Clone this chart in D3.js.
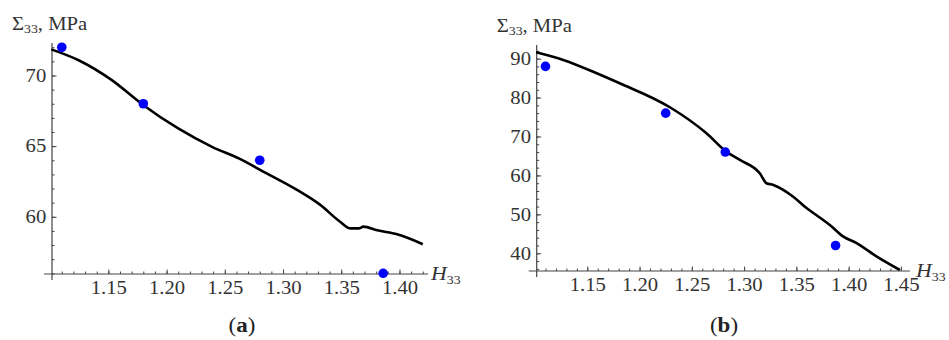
<!DOCTYPE html>
<html>
<head>
<meta charset="utf-8">
<script src="https://cdn.jsdelivr.net/npm/d3@7"></script>
<style>
    body { margin: 0; background: #fff; }
    svg { display: block; }
    text { font-family: "Liberation Serif", "DejaVu Serif", serif; }
</style>
</head>
<body>
<script>
// panel (a): model curve and experimental points
const curveA_H = [1.101, 1.1245, 1.153, 1.179, 1.21, 1.239, 1.262, 1.283, 1.312, 1.332, 1.349, 1.358, 1.365, 1.369, 1.381, 1.398, 1.420];
const curveA_S = [71.85, 71.08, 69.67, 67.97, 66.25, 64.95, 64.13, 63.2, 61.9, 60.84, 59.65, 59.18, 59.18, 59.3, 59.04, 58.76, 58.06];
const pointsA_H = [1.11, 1.18, 1.28, 1.386];
const pointsA_S = [72, 68, 64, 56];

// panel (b)
const curveB_H = [1.101, 1.127, 1.159, 1.181, 1.229, 1.264, 1.283, 1.296, 1.315, 1.3215, 1.328, 1.347, 1.360, 1.369, 1.382, 1.395, 1.408, 1.427, 1.449];
const curveB_S = [91.64, 89.67, 86.25, 83.68, 77.51, 70.83, 66.11, 63.97, 60.56, 57.99, 57.55, 54.54, 51.56, 49.84, 47.27, 44.27, 42.57, 39.13, 35.71];
const pointsB_H = [1.11, 1.225, 1.282, 1.3875];
const pointsB_S = [88, 76, 66, 42];

// tick labels
const xTicksA = [1.15, 1.20, 1.25, 1.30, 1.35, 1.40];
const yTicksA = [60, 65, 70];
const xTicksB = [1.15, 1.20, 1.25, 1.30, 1.35, 1.40, 1.45];
const yTicksB = [40, 50, 60, 70, 80, 90];

const SX = 1.15; // the source image is a bit stretched horizontally

const svg = d3.select("body").append("svg")
    .attr("width", 949)
    .attr("height", 340);

function drawPanel(cfg) {
    const x = d3.scaleLinear().domain(cfg.xDomain).range(cfg.xRange);
    const y = d3.scaleLinear().domain(cfg.yDomain).range(cfg.yRange);
    const x0 = cfg.xRange[0], y0 = cfg.yRange[0];
    const g = svg.append("g");
    const axisColor = "#444";

    // minor ticks
    const xm = g.append("g").attr("transform", `translate(0,${y0})`)
        .call(d3.axisBottom(x).tickValues(cfg.xMinor).tickSize(-2.5).tickFormat(""));
    const ym = g.append("g").attr("transform", `translate(${x0},0)`)
        .call(d3.axisLeft(y).tickValues(cfg.yMinor).tickSize(-2.5).tickFormat(""));

    // major ticks with labels
    const xa = g.append("g").attr("transform", `translate(0,${y0})`)
        .call(d3.axisBottom(x).tickValues(cfg.xTicks).tickSize(-4.5).tickPadding(7).tickFormat(d3.format(".2f")));
    const ya = g.append("g").attr("transform", `translate(${x0},0)`)
        .call(d3.axisLeft(y).tickValues(cfg.yTicks).tickSize(-4.5).tickPadding(5).tickFormat(d3.format("d")));

    [xm, ym, xa, ya].forEach(a => {
        a.select(".domain").remove();
        a.selectAll("line").attr("stroke", axisColor);
    });
    [xa, ya].forEach(a => a.selectAll("text")
        .attr("font-size", 18)
        .attr("fill", "#333")
        .attr("transform", `scale(${SX},1)`));

    // axis lines, slightly overshooting the origin
    g.append("line").attr("x1", x0 - 8).attr("x2", cfg.xRange[1])
        .attr("y1", y0).attr("y2", y0).attr("stroke", axisColor).attr("stroke-width", 1.2);
    g.append("line").attr("x1", x0).attr("x2", x0)
        .attr("y1", cfg.yRange[1]).attr("y2", y0 + 6).attr("stroke", axisColor).attr("stroke-width", 1.2);

    // model curve
    const line = d3.line()
        .x((d, i) => x(cfg.curveH[i]))
        .y((d, i) => y(cfg.curveS[i]))
        .curve(d3.curveMonotoneX);
    g.append("path")
        .attr("d", line(cfg.curveS))
        .attr("fill", "none")
        .attr("stroke", "#000")
        .attr("stroke-width", 2.6);

    // experiment points
    g.selectAll("circle.pt").data(cfg.pointsS).enter().append("circle")
        .attr("class", "pt")
        .attr("cx", (d, i) => x(cfg.pointsH[i]))
        .attr("cy", d => y(d))
        .attr("r", 4.8)
        .attr("fill", "#0000ff");

    // y-axis title  Σ33, MPa
    const t = g.append("g")
        .attr("transform", `translate(${x0 - 40},${cfg.titleY}) scale(${SX},1)`)
        .append("text").attr("font-size", 18).attr("fill", "#333");
    t.append("tspan").text("Σ");
    t.append("tspan").attr("font-size", 12).attr("dy", 3).text("33");
    t.append("tspan").attr("dy", -3).text(", MPa");

    // x-axis title  H33
    const h = g.append("g")
        .attr("transform", `translate(${cfg.hX},${y0 + 6}) scale(${SX},1)`)
        .append("text").attr("font-size", 19).attr("fill", "#333");
    h.append("tspan").attr("font-style", "italic").text("H");
    h.append("tspan").attr("font-size", 12).attr("dy", 4).text("33");

    // panel caption
    const c = g.append("g")
        .attr("transform", `translate(${cfg.captionX},332) scale(${SX},1)`)
        .append("text").attr("font-size", 20).attr("fill", "#222").attr("text-anchor", "middle");
    c.append("tspan").text("(");
    c.append("tspan").attr("font-weight", "bold").text(cfg.caption);
    c.append("tspan").text(")");
}

drawPanel({
    xDomain: [1.1016, 1.4245], xRange: [52, 428],
    yDomain: [55.95, 72.3], yRange: [274, 43],
    xTicks: xTicksA, yTicks: yTicksA,
    xMinor: d3.range(111, 143).map(v => v / 100),
    yMinor: d3.range(56, 73),
    curveH: curveA_H, curveS: curveA_S,
    pointsH: pointsA_H, pointsS: pointsA_S,
    titleY: 30, hX: 431, captionX: 242, caption: "a"
});

drawPanel({
    xDomain: [1.1016, 1.4587], xRange: [536.7, 910],
    yDomain: [35.45, 93.5], yRange: [271, 45],
    xTicks: xTicksB, yTicks: yTicksB,
    xMinor: d3.range(111, 146).map(v => v / 100),
    yMinor: d3.range(36, 94, 2),
    curveH: curveB_H, curveS: curveB_S,
    pointsH: pointsB_H, pointsS: pointsB_S,
    titleY: 32, hX: 916, captionX: 724, caption: "b"
});
</script>
</body>
</html>
